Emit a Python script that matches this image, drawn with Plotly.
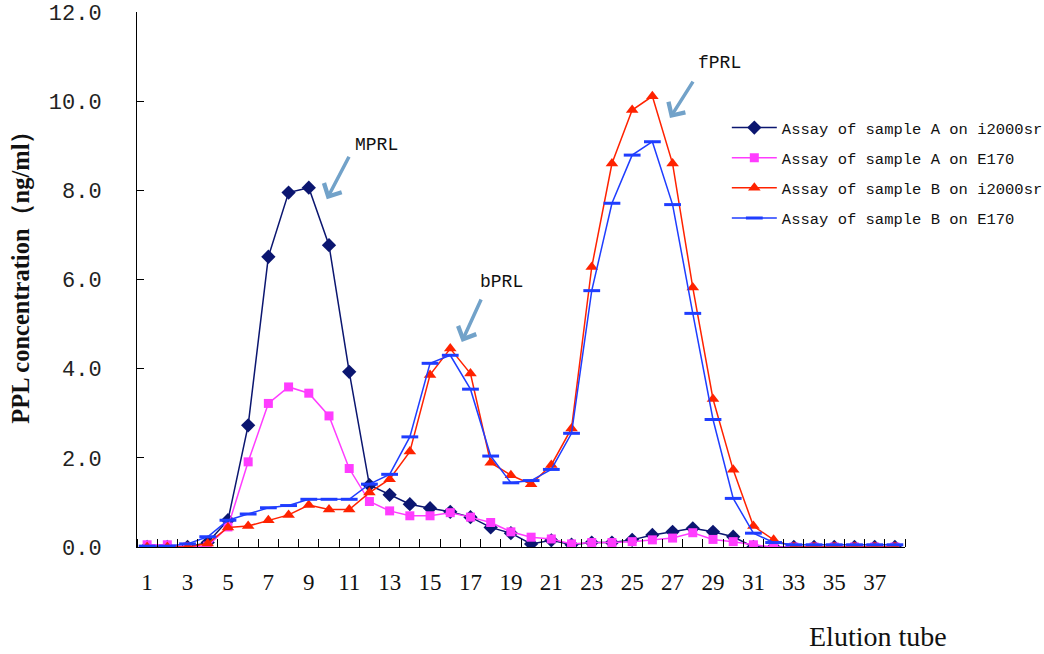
import plotly.graph_objects as go

# Elution tube numbers
tubes = list(range(1, 39))

# PPL concentration (ng/ml) per tube
sample_a_i2000sr = [0.0, 0.0, 0.0, 0.1, 0.6, 2.73, 6.51, 7.95, 8.06, 6.77,
                    3.93, 1.39, 1.17, 0.96, 0.87, 0.79, 0.67, 0.44, 0.31, 0.07,
                    0.15, 0.05, 0.1, 0.1, 0.16, 0.27, 0.34, 0.42, 0.34, 0.23,
                    0.0, 0.0, 0.0, 0.0, 0.0, 0.0, 0.0, 0.0]
sample_a_e170 = [0.05, 0.05, 0.0, 0.02, 0.45, 1.91, 3.22, 3.59, 3.45, 2.94,
                 1.76, 1.02, 0.81, 0.70, 0.70, 0.77, 0.67, 0.55, 0.34, 0.22,
                 0.18, 0.07, 0.1, 0.1, 0.12, 0.16, 0.2, 0.32, 0.17, 0.12,
                 0.05, 0.0, 0.0, 0.0, 0.0, 0.0, 0.0, 0.0]
sample_b_i2000sr = [0.0, 0.0, 0.0, 0.08, 0.44, 0.47, 0.6, 0.72, 0.94, 0.84,
                    0.84, 1.22, 1.52, 2.14, 3.86, 4.45, 3.89, 1.89, 1.61, 1.41,
                    1.84, 2.66, 6.28, 8.6, 9.8, 10.11, 8.6, 5.82, 3.32, 1.73,
                    0.47, 0.16, 0.0, 0.0, 0.0, 0.0, 0.0, 0.0]
sample_b_e170 = [0.02, 0.02, 0.07, 0.23, 0.6, 0.74, 0.88, 0.93, 1.07, 1.07,
                 1.07, 1.41, 1.63, 2.47, 4.12, 4.3, 3.54, 2.04, 1.44, 1.49,
                 1.74, 2.55, 5.75, 7.71, 8.79, 9.09, 7.68, 5.24, 2.86, 1.09,
                 0.31, 0.1, 0.05, 0.05, 0.05, 0.05, 0.05, 0.05]

series_names = ["Assay of sample A on i2000sr", "Assay of sample A on E170",
                "Assay of sample B on i2000sr", "Assay of sample B on E170"]

y_tick_values = [0, 2, 4, 6, 8, 10, 12]
y_tick_labels = ["0.0", "2.0", "4.0", "6.0", "8.0", "10.0", "12.0"]
x_tick_values = list(range(1, 38, 2))
x_tick_labels = [str(v) for v in x_tick_values]

NAVY = "#0b1670"
MAGENTA = "#ff3cff"
RED = "#ff2200"
BLUE = "#1f3dff"

fig = go.Figure()

fig.add_trace(go.Scatter(
    x=tubes, y=sample_a_i2000sr, name=series_names[0], mode="lines+markers",
    line=dict(color=NAVY, width=1.5), legendgroup="a",
    marker=dict(symbol="diamond", size=11, color=NAVY)))
fig.add_trace(go.Scatter(
    x=tubes, y=sample_a_e170, name=series_names[1], mode="lines+markers",
    line=dict(color=MAGENTA, width=1.5), legendgroup="b",
    marker=dict(symbol="square", size=9, color=MAGENTA)))
fig.add_trace(go.Scatter(
    x=tubes, y=sample_b_i2000sr, name=series_names[2], mode="lines+markers",
    line=dict(color=RED, width=1.5), legendgroup="c",
    marker=dict(symbol="triangle-up", size=11, color=RED)))
fig.add_trace(go.Scatter(
    x=tubes, y=sample_b_e170, name=series_names[3], mode="lines+markers",
    line=dict(color=BLUE, width=1.5), legendgroup="d",
    marker=dict(symbol="line-ew", size=12, color=BLUE,
                line=dict(width=3, color=BLUE))))

fig.update_layout(
    width=1044, height=654,
    margin=dict(l=137, r=139, t=12, b=107, autoexpand=False),
    paper_bgcolor="white", plot_bgcolor="white",
    showlegend=True,
    legend=dict(
        x=0.768, y=0.815, xanchor="left", yanchor="top",
        font=dict(family="Liberation Mono", size=15.5, color="#111"),
        bgcolor="rgba(255,255,255,0)", itemwidth=45,
        tracegroupgap=7, traceorder="grouped"),
    xaxis=dict(
        range=[0.5, 38.5], showgrid=False, zeroline=False, automargin=False,
        showline=True, linecolor="black", linewidth=1,
        tickmode="array", tickvals=x_tick_values, ticktext=x_tick_labels,
        ticks="", ticklabelstandoff=14,
        tickfont=dict(family="Liberation Serif", size=23, color="#111"),
        minor=dict(tickmode="array",
                   tickvals=[t + 0.5 for t in range(0, 39)],
                   ticks="inside", ticklen=8, tickcolor="black")),
    yaxis=dict(
        range=[0, 12], showgrid=False, zeroline=False, automargin=False,
        showline=True, linecolor="black", linewidth=1,
        tickmode="array", tickvals=y_tick_values, ticktext=y_tick_labels,
        ticks="inside", ticklen=7, tickcolor="black", ticklabelstandoff=30,
        tickfont=dict(family="Liberation Mono", size=22, color="#222")),
)

ARROW = "#72a2c9"
peak_labels = [
    ("MPRL", 9.89, 7.80, 23, -44, 12.36, 9.01),
    ("bPRL", 16.57, 4.60, 20, -44, 18.55, 5.94),
    ("fPRL", 26.87, 9.62, 24, -38, 29.34, 10.85),
]
for text, hx, hy, ax, ay, tx, ty in peak_labels:
    fig.add_annotation(x=hx, y=hy, ax=ax, ay=ay, text="", showarrow=True,
                       arrowhead=4, arrowsize=1.1, arrowwidth=3.5,
                       arrowcolor=ARROW)
    fig.add_annotation(x=tx, y=ty, text=text, showarrow=False,
                       xanchor="center", yanchor="middle",
                       font=dict(family="Liberation Mono", size=18,
                                 color="#111"))

fig.add_annotation(
    xref="paper", yref="paper", x=-0.152, y=0.515, textangle=-90,
    xanchor="center", yanchor="middle",
    text="<b>PPL concentration（ng/ml）</b>", showarrow=False,
    font=dict(family="Liberation Serif", size=24.5, color="#111"))
fig.add_annotation(
    xref="paper", yref="paper", x=0.965, y=-0.168,
    xanchor="center", yanchor="middle",
    text="Elution tube", showarrow=False,
    font=dict(family="Liberation Serif", size=28, color="#111"))

fig.write_html("out.html")
